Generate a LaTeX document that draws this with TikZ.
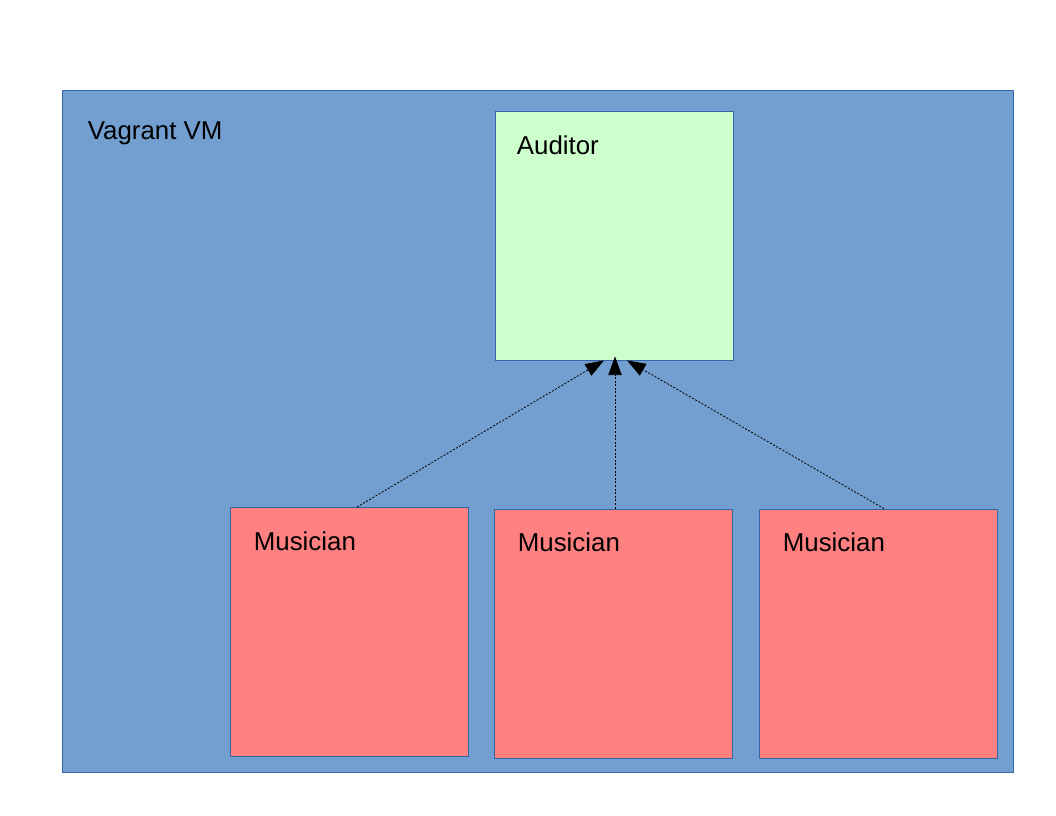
\documentclass[tikz,border=0pt]{standalone}
\usepackage{fontspec}
\setmainfont{Liberation Sans}
\usetikzlibrary{arrows.meta,positioning}
\definecolor{vm}{HTML}{729FCF}
\definecolor{edge}{HTML}{3465A4}
\definecolor{aud}{HTML}{CCFFCC}
\definecolor{mus}{HTML}{FF8080}
\tikzset{box/.style={rectangle, draw=edge, line width=0.6pt, fill={#1}, inner sep=0pt,
            minimum width=178.5pt, minimum height=186.75pt},
         lbl/.style={anchor=base west, inner sep=0pt, font=\fontsize{19.4}{23}\selectfont},
         msg/.style={dash pattern=on 1.5pt off 1.2pt, line width=0.6pt,
            -{Triangle[length=14pt,width=10pt]}}}

\begin{document}
\begin{tikzpicture}[x=0.75pt, y=-0.75pt]
\useasboundingbox (0,0) rectangle (1056,816);
 \node[box=vm, minimum width=713.25pt, minimum height=511.5pt] (vagrant) at (537.5,431) {};
 \node[lbl] at ([shift={(26,50)}]vagrant.north west) {Vagrant VM};
 % auditor on top
 \node[box=aud] (auditor) at (614,235.5) {};
 \node[lbl] at ([shift={(22,44)}]auditor.north west) {Auditor};
 % three musicians below
 \node[box=mus] (m1) at (349,632) {};
 \node[box=mus] (m2) at (613,633.5) {};
 \node[box=mus] (m3) at (878,633.5) {};
 \foreach \m in {m1,m2,m3}
   \node[lbl] at ([shift={(24,43)}]\m.north west) {Musician};
 \draw[msg] ([xshift=6pt]m1.north) -- ([xshift=-7.5pt]auditor.south);
 \draw[msg] ([xshift=1.5pt]m2.north) -- ([xshift=0.75pt,yshift=3pt]auditor.south);
 \draw[msg] ([xshift=4.5pt]m3.north) -- ([xshift=9.75pt]auditor.south);
\end{tikzpicture}
\end{document}
